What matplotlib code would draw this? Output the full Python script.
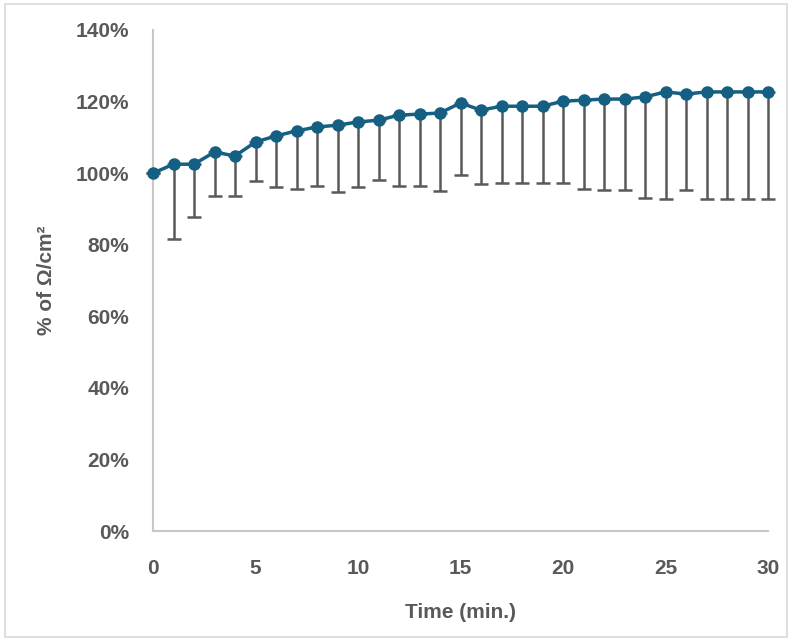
import matplotlib
matplotlib.use("Agg")
import matplotlib.pyplot as plt
from matplotlib.patches import Rectangle
from matplotlib.ticker import FuncFormatter, MultipleLocator

time_min = list(range(0, 31))
mean_pct = [100.0, 102.5, 102.5, 105.9, 104.8, 108.7, 110.4, 111.8, 112.9, 113.4,
            114.3, 114.8, 116.2, 116.5, 116.8, 119.6, 117.6, 118.7, 118.7, 118.7,
            120.1, 120.4, 120.7, 120.7, 121.3, 122.7, 122.1, 122.7, 122.7, 122.7, 122.7]
lower_pct = [100.0, 81.6, 87.7, 93.6, 93.6, 97.8, 96.1, 95.7, 96.4, 94.7,
             96.1, 98.1, 96.4, 96.4, 95.0, 99.4, 97.0, 97.3, 97.3, 97.3,
             97.3, 95.7, 95.4, 95.4, 93.1, 92.9, 95.3, 92.9, 92.9, 92.9, 92.9]
err_minus = [m - l for m, l in zip(mean_pct, lower_pct)]

plt.rcParams['font.family'] = ['Liberation Sans', 'DejaVu Sans']
text_color = '#595959'
line_color = '#156082'

fig = plt.figure(figsize=(7.92, 6.41), dpi=100)
ax = fig.add_axes([0.1932, 0.1716, 0.9697 - 0.1932, 0.9532 - 0.1716])

ax.errorbar(time_min, mean_pct, yerr=[err_minus, [0] * len(err_minus)],
            fmt='none', ecolor='#595959', elinewidth=1.8, capsize=5, capthick=1.8, zorder=2)
ax.plot(time_min, mean_pct, color=line_color, linewidth=2.5, marker='o',
        markersize=8, markerfacecolor=line_color, markeredgecolor=line_color, zorder=3)

ax.set_xlim(0, 30)
ax.set_ylim(0, 140)
ax.xaxis.set_major_locator(MultipleLocator(5))
ax.yaxis.set_major_locator(MultipleLocator(20))
ax.yaxis.set_major_formatter(FuncFormatter(lambda v, p: f"{v:.0f}%"))
ax.tick_params(length=0, labelsize=15, colors=text_color)
ax.tick_params(axis='y', pad=17)
ax.tick_params(axis='x', pad=20)
for lab in ax.get_xticklabels() + ax.get_yticklabels():
    lab.set_fontweight('bold')
for s in ['top', 'right']:
    ax.spines[s].set_visible(False)
for s in ['left', 'bottom']:
    ax.spines[s].set_color('#c8c8c8')
    ax.spines[s].set_linewidth(1.5)
for art in ax.lines + ax.collections:
    art.set_clip_on(False)

ax.set_xlabel('Time (min.)', fontsize=15, fontweight='bold', color=text_color)
ax.xaxis.set_label_coords(0.5, -0.143)
ax.set_ylabel('% of Ω/cm²', fontsize=15, fontweight='bold', color=text_color)
ax.yaxis.set_label_coords(-0.158, 0.5)

fig.patches.append(Rectangle((0.006, 0.006), 0.988, 0.988, transform=fig.transFigure,
                             fill=False, edgecolor='#d9d9d9', linewidth=1.2))

fig.savefig('out.png', dpi=100)
